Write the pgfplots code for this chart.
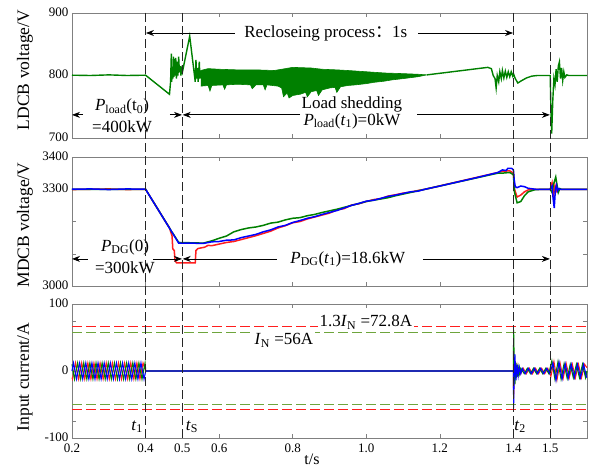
\documentclass[border=0pt]{standalone}
\usepackage{fontspec}
\setmainfont{Liberation Serif}
\newfontfamily\cjk{Noto Sans CJK SC}
\usepackage{pgfplots}
\pgfplotsset{compat=1.18}
\usetikzlibrary{arrows.meta}
\definecolor{dgreen}{RGB}{0,128,0}
\definecolor{lgreen}{RGB}{110,165,60}
\definecolor{myred}{RGB}{255,30,30}
\definecolor{myblue}{RGB}{0,0,255}
\pgfplotsset{
  base/.style={scale only axis, width=515pt, xmin=0.2, xmax=1.6,
    xtick={0.2,0.4,0.5,0.6,0.8,1.0,1.2,1.4,1.5},
    tick align=inside, major tick length=4pt,
    axis line style={gray}, every tick/.style={gray, line width=0.5pt},
    tick label style={font=\fontsize{13}{13}\selectfont, black},
    xticklabel style={yshift=-2.5pt},
    yticklabel style={yshift=1pt},
    /pgf/number format/assume math mode=true,
    clip=false, anchor=south west},
}
\tikzset{
  ann/.style={font=\fontsize{17}{17}\selectfont, inner sep=1pt, black},
  arr/.style={-{Stealth[length=8pt,width=6pt]}, line width=0.8pt, black},
  vdash/.style={line width=1.4pt, black!85, dash pattern=on 9pt off 4pt},
}
\begin{document}
\begin{tikzpicture}
\useasboundingbox (0,0) rectangle (589pt,467pt);
% ---------------- top panel ----------------
\begin{axis}[base, at={(72pt,329pt)}, height=125pt, ymin=700, ymax=900,
  ytick={700,800,900}, xticklabels={}]
\addplot[dgreen, line width=1.4pt] coordinates {
(0.2,800.5)(0.25,800)(0.3,801)(0.35,800)(0.4,800.5)
(0.465,770)(0.468,790)(0.470,835)(0.471,790)(0.473,812)(0.474,795)(0.476,830)(0.477,798)(0.479,826)(0.480,800)(0.482,828)(0.484,795)(0.486,822)(0.488,800)(0.490,830)(0.492,805)(0.494,815)(0.496,800)(0.498,810)
(0.500,805)(0.520,863)(0.535,790)(0.537,825)(0.539,795)(0.541,812)(0.543,790)(0.546,822)(0.548,795)(0.55,808)};
\addplot[dgreen, fill=dgreen, line width=0.6pt] coordinates {
(0.55,808)(0.57,811)(0.6,810)(0.65,809)(0.7,809)(0.75,808)(0.78,811)(0.8,813)(0.85,812)(0.88,810)(0.92,809)(0.95,808)(1.0,806)(1.05,804)(1.1,803)(1.14,802)(1.165,801)
(1.14,798)(1.1,795)(1.07,793)(1.05,791)(1.02,789)(1.0,787)(0.97,785)(0.95,784)(0.93,782)(0.92,773)(0.915,781)(0.9,780)(0.88,777)(0.87,768)(0.865,776)(0.85,774)(0.84,766)(0.835,773)(0.82,770)(0.8,768)(0.79,764)(0.785,772)(0.775,766)(0.77,780)(0.76,783)(0.73,785)(0.725,777)(0.72,785)(0.7,785)(0.69,779)(0.685,785)(0.65,786)(0.62,785)(0.615,778)(0.61,785)(0.58,784)(0.575,775)(0.57,784)(0.55,783)};
\addplot[dgreen, line width=1.4pt] coordinates {
(1.165,801)(1.33,813)(1.34,811)(1.345,800)(1.35,795)(1.353,780)(1.356,800)(1.36,790)(1.363,806)(1.367,795)(1.37,808)(1.374,796)(1.378,807)(1.382,797)(1.386,806)(1.39,798)(1.394,806)(1.398,799)(1.4,803)(1.405,795)(1.412,788)(1.42,791)(1.435,796)(1.45,799)(1.465,800)(1.5,800)
(1.502,740)(1.504,707)(1.507,760)(1.51,795)(1.513,785)(1.516,810)(1.519,790)(1.522,815)(1.525,822)(1.528,795)(1.531,812)(1.534,792)(1.537,806)(1.54,797)(1.545,801)(1.55,800)(1.6,800)};
\coordinate (a1) at (axis cs:0.4,900);
\coordinate (a2) at (axis cs:0.5,900);
\coordinate (a3) at (axis cs:1.4,900);
\coordinate (a4) at (axis cs:1.5,900);
\draw[arr] (axis cs:0.643,868) -- (axis cs:0.401,868);
\node[ann] at (axis cs:0.89,868) {Recloseing process{\cjk ：}1s};
\draw[arr] (axis cs:1.141,868) -- (axis cs:1.399,868);
\draw[arr] (axis cs:0.23,737) -- (axis cs:0.2,737);
\node[ann] at (axis cs:0.336,750) {\textit{P}\textsubscript{load}(t\textsubscript{0})};
\node[ann] at (axis cs:0.336,718) {=400kW};
\draw[arr] (axis cs:0.466,737) -- (axis cs:0.499,737);
\draw[arr] (axis cs:0.82,737) -- (axis cs:0.501,737);
\node[ann] at (axis cs:0.961,754) {Load shedding};
\node[ann] at (axis cs:0.961,727) {\textit{P}\textsubscript{load}(\textit{t}\textsubscript{1})=0kW};
\draw[arr] (axis cs:1.138,737) -- (axis cs:1.499,737);
\end{axis}
% ---------------- middle panel ----------------
\begin{axis}[base, at={(72pt,181pt)}, height=129pt, ymin=3000, ymax=3400,
  ytick={3000,3100,3200,3300,3400}, yticklabels={3000,{},{},3300,3400}, xticklabels={}]
\addplot[myred, line width=1.5pt] coordinates {
(0.2,3299)(0.25,3300)(0.3,3301)(0.35,3299)(0.4,3300)(0.465,3180)(0.472,3155)(0.474,3115)(0.478,3110)(0.48,3080)(0.484,3072)(0.535,3072)(0.537,3110)(0.542,3116)(0.55,3118)(0.56,3120)(0.57,3126)(0.58,3125)(0.6,3130)(0.62,3135)(0.64,3138)(0.66,3144)(0.68,3150)(0.7,3156)(0.72,3163)(0.74,3170)(0.76,3180)(0.78,3187)(0.8,3196)(0.82,3200)(0.84,3208)(0.86,3214)(0.88,3220)(0.9,3226)(0.92,3236)(0.94,3240)(0.96,3251)(0.98,3255)(1.0,3262)(1.02,3268)(1.04,3271)(1.06,3279)(1.08,3283)(1.1,3288)(1.12,3291)(1.14,3296)(1.16,3300)(1.358,3352)(1.37,3356)(1.39,3357)(1.4,3350)(1.403,3300)(1.41,3276)(1.42,3282)(1.43,3292)(1.44,3298)(1.46,3300)(1.5,3300)(1.505,3320)(1.509,3280)(1.513,3312)(1.517,3294)(1.521,3302)(1.525,3300)(1.6,3300)};
\addplot[dgreen, line width=1.5pt] coordinates {
(0.2,3300)(0.4,3300)(0.465,3180)(0.47,3170)(0.475,3162)(0.49,3135)(0.557,3133)(0.58,3140)(0.6,3148)(0.62,3155)(0.64,3168)(0.66,3175)(0.68,3180)(0.7,3183)(0.72,3188)(0.74,3195)(0.76,3198)(0.78,3205)(0.8,3210)(0.82,3212)(0.84,3218)(0.86,3222)(0.88,3228)(0.9,3233)(0.92,3238)(0.94,3244)(0.96,3250)(0.98,3256)(1.0,3262)(1.02,3266)(1.04,3270)(1.06,3274)(1.08,3280)(1.1,3285)(1.12,3290)(1.14,3295)(1.16,3300)(1.358,3350)(1.37,3350)(1.39,3352)(1.4,3345)(1.403,3290)(1.41,3258)(1.42,3262)(1.43,3280)(1.44,3292)(1.46,3299)(1.5,3300)(1.505,3290)(1.509,3315)(1.515,3338)(1.519,3310)(1.522,3290)(1.526,3302)(1.53,3300)(1.6,3300)};
\addplot[myblue, line width=1.5pt] coordinates {
(0.2,3300)(0.25,3301)(0.3,3299)(0.35,3301)(0.4,3300)(0.49,3133)(0.52,3133)(0.557,3132)(0.58,3137)(0.6,3138)(0.62,3142)(0.64,3143)(0.66,3150)(0.68,3155)(0.7,3160)(0.72,3168)(0.74,3174)(0.76,3183)(0.78,3188)(0.8,3197)(0.82,3203)(0.84,3210)(0.86,3215)(0.88,3222)(0.9,3228)(0.92,3234)(0.94,3242)(0.96,3250)(0.98,3256)(1.0,3263)(1.02,3266)(1.04,3272)(1.06,3278)(1.08,3282)(1.1,3287)(1.12,3292)(1.14,3294)(1.16,3300)(1.2,3310)(1.25,3323)(1.3,3336)(1.358,3352)(1.37,3360)(1.38,3358)(1.385,3365)(1.395,3365)(1.4,3360)(1.402,3330)(1.405,3308)(1.41,3305)(1.42,3310)(1.43,3308)(1.44,3303)(1.46,3300)(1.5,3300)(1.505,3310)(1.508,3270)(1.511,3242)(1.514,3300)(1.517,3312)(1.52,3295)(1.523,3302)(1.527,3300)(1.6,3300)};
\draw[arr] (axis cs:0.243,3084) -- (axis cs:0.2,3084);
\node[ann] at (axis cs:0.344,3121) {\textit{P}\textsubscript{DG}(0)};
\node[ann] at (axis cs:0.344,3056) {=300kW};
\draw[arr] (axis cs:0.42,3084) -- (axis cs:0.499,3084);
\draw[arr] (axis cs:0.757,3084) -- (axis cs:0.501,3084);
\node[ann] at (axis cs:0.95,3084) {\textit{P}\textsubscript{DG}(\textit{t}\textsubscript{1})=18.6kW};
\draw[arr] (axis cs:1.154,3084) -- (axis cs:1.499,3084);
\end{axis}
% ---------------- bottom panel ----------------
\begin{axis}[base, at={(72pt,29pt)}, height=134pt, ymin=-100, ymax=100,
  ytick={-100,-75,0,75,100}, yticklabels={-100,{},0,{},100},
  xticklabels={0.2,0.4,0.5,0.6,0.8,1.0,1.2,1.4,1.5}]
\addplot[myred, line width=1.2pt, dash pattern=on 10pt off 4pt] coordinates {(0.2,67)(1.6,67)};
\addplot[myred, line width=1.2pt, dash pattern=on 10pt off 4pt] coordinates {(0.2,-58)(1.6,-58)};
\addplot[lgreen, line width=1.2pt, dash pattern=on 10pt off 4pt] coordinates {(0.2,58)(1.6,58)};
\addplot[lgreen, line width=1.2pt, dash pattern=on 10pt off 4pt] coordinates {(0.2,-50)(1.6,-50)};
\addplot[myred, line width=1.1pt] coordinates {
(0.2,-10)(0.2014,-12)(0.2097,12)(0.2181,-12)(0.2264,12)(0.2347,-12)(0.2431,12)(0.2514,-12)(0.2597,12)(0.2681,-12)(0.2764,12)(0.2847,-12)(0.2931,12)(0.3014,-12)(0.3097,12)(0.3181,-12)(0.3264,12)(0.3347,-12)(0.3431,12)(0.3514,-12)(0.3597,12)(0.3681,-12)(0.3764,12)(0.3847,-12)(0.3931,12)(0.4005,0)(1.4,0)(1.4005,-40)(1.402,-5)(1.404,14)(1.407,-9)(1.41,7)(1.413,-5)(1.416,4)(1.42,-4)(1.4268,4)(1.4351,-4)(1.4434,4)(1.4518,-4)(1.4601,4)(1.4684,-4)(1.4768,4)(1.4851,-4)(1.4934,4)(1.5018,-8)(1.5101,14)(1.5184,-13)(1.5268,12)(1.5351,-11)(1.5434,11)(1.5518,-10)(1.5601,10)(1.5684,-10)(1.5768,10)(1.5851,-10)(1.5934,10)(1.6,5)};
\addplot[dgreen, line width=1.1pt] coordinates {
(0.2,10)(0.2069,-12)(0.2153,12)(0.2236,-12)(0.2319,12)(0.2403,-12)(0.2486,12)(0.2569,-12)(0.2653,12)(0.2736,-12)(0.2819,12)(0.2903,-12)(0.2986,12)(0.3069,-12)(0.3153,12)(0.3236,-12)(0.3319,12)(0.3403,-12)(0.3486,12)(0.3569,-12)(0.3653,12)(0.3736,-12)(0.3819,12)(0.3903,-12)(0.3986,12)(0.4005,0)(1.4,0)(1.4005,61)(1.402,18)(1.404,-20)(1.407,12)(1.41,-9)(1.413,6)(1.416,-5)(1.42,4)(1.4295,-4)(1.4378,4)(1.4462,-4)(1.4545,4)(1.4628,-4)(1.4712,4)(1.4795,-4)(1.4878,4)(1.4962,-4)(1.5045,15)(1.5128,-12)(1.5212,14)(1.5295,-12)(1.5378,11)(1.5462,-11)(1.5545,10)(1.5628,-10)(1.5712,10)(1.5795,-10)(1.5878,10)(1.5962,-10)(1.6,0)};
\addplot[myblue, line width=1.1pt] coordinates {
(0.2,0)(0.2042,12)(0.2125,-12)(0.2208,12)(0.2292,-12)(0.2375,12)(0.2458,-12)(0.2542,12)(0.2625,-12)(0.2708,12)(0.2792,-12)(0.2875,12)(0.2958,-12)(0.3042,12)(0.3125,-12)(0.3208,12)(0.3292,-12)(0.3375,12)(0.3458,-12)(0.3542,12)(0.3625,-12)(0.3708,12)(0.3792,-12)(0.3875,12)(0.3958,-12)(0.4005,0)(1.4,0)(1.4005,-55)(1.402,-8)(1.404,25)(1.407,-14)(1.41,10)(1.413,-7)(1.416,6)(1.42,-4)(1.424,4)(1.4323,-4)(1.4407,4)(1.449,-4)(1.4573,4)(1.4657,-4)(1.474,4)(1.4823,-4)(1.4907,4)(1.499,-4)(1.5073,12)(1.5157,-14)(1.524,13)(1.5323,-12)(1.5407,11)(1.549,-11)(1.5573,10)(1.5657,-10)(1.574,10)(1.5823,-10)(1.5907,10)(1.599,-10)};
\node[ann, fill=white, inner sep=2pt] at (axis cs:0.999,73) {1.3\textit{I}\textsubscript{N} =72.8A};
\node[ann, fill=white, inner sep=2pt] at (axis cs:0.776,46) {\textit{I}\textsubscript{N} =56A};
\node[ann] at (axis cs:0.377,-83) {\textit{t}\textsubscript{1}};
\node[ann] at (axis cs:0.526,-83) {\textit{t}\textsubscript{S}};
\node[ann] at (axis cs:1.418,-83) {\textit{t}\textsubscript{2}};
\coordinate (b1) at (axis cs:0.4,-100);
\coordinate (b2) at (axis cs:0.5,-100);
\coordinate (b3) at (axis cs:1.4,-100);
\coordinate (b4) at (axis cs:1.5,-100);
\end{axis}
\draw[vdash] (a1) -- (b1);
\draw[vdash] (a2) -- (b2);
\draw[vdash] (a3) -- (b3);
\draw[vdash] (a4) -- (b4);
\node[font=\fontsize{17.5}{17.5}\selectfont, rotate=90] at (25pt,397pt) {LDCB voltage/V};
\node[font=\fontsize{17.5}{17.5}\selectfont, rotate=90] at (25pt,242pt) {MDCB voltage/V};
\node[font=\fontsize{17.5}{17.5}\selectfont, rotate=90] at (25pt,90pt) {Input current/A};
\node[font=\fontsize{16}{16}\selectfont] at (312pt,8pt) {t/s};
\end{tikzpicture}
\end{document}
